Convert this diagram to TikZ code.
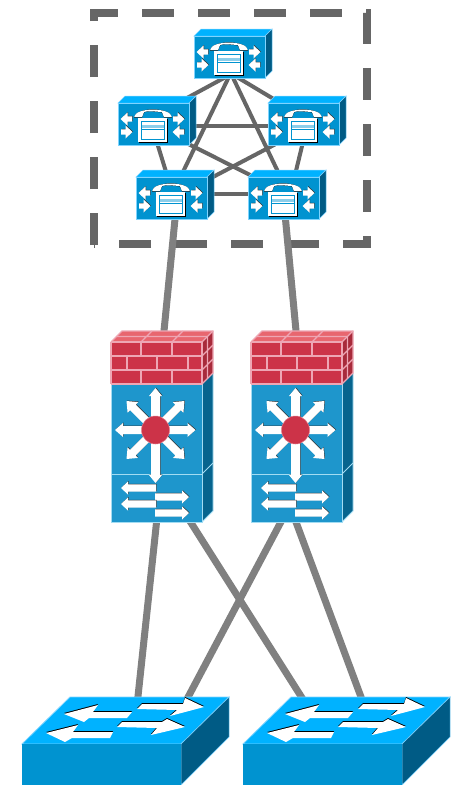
\documentclass[tikz,border=0pt]{standalone}
\usetikzlibrary{calc,backgrounds}
\definecolor{phTop}{HTML}{00B2FF}
\definecolor{phFront}{HTML}{0093D0}
\definecolor{phSide}{HTML}{005B85}
\definecolor{phEdge}{HTML}{7FD4FF}
\definecolor{stFront}{HTML}{1E96CC}
\definecolor{stSide}{HTML}{06648E}
\definecolor{stEdge}{HTML}{A3DCF2}
\definecolor{fwRed}{HTML}{CC3348}
\definecolor{fwTop}{HTML}{E8666F}
\definecolor{fwSide}{HTML}{A82B3B}
\definecolor{fwLine}{HTML}{EEA6B4}
\definecolor{darkline}{HTML}{666666}
\definecolor{thickline}{HTML}{808080}
\tikzset{
  devbox/.style={rectangle,inner sep=0pt,outer sep=0pt,fill=#1},
  phonebox/.style={devbox=phFront,draw=phEdge,line width=.8pt,minimum width=71pt,minimum height=42pt},
  stackbox/.style={devbox=stFront,draw=stEdge,line width=1pt,minimum width=91pt,minimum height=180pt},
  switchbox/.style={devbox=phFront,minimum width=159pt,minimum height=41pt},
  meshlink/.style={draw=darkline,line width=4pt},
  uplink/.style={draw=thickline,line width=7pt},
  domainframe/.style={draw=darkline,line width=8pt,dash pattern=on 32pt off 24pt,line cap=butt,miter limit=10},
  brick/.style={draw=fwLine,line width=1.2pt}
}
% white arrow with dark shadow: tail point, angle, length, half shaft, half head, head length
\newcommand{\whitearrow}[6]{%
  \begin{scope}[shift={(#1)}]
    \fill[black!80,xshift=.5pt,yshift=.5pt,rotate=#2] (0,-#4)--(#3-#6,-#4)--(#3-#6,-#5)--(#3,0)--(#3-#6,#5)--(#3-#6,#4)--(0,#4)--cycle;
    \fill[white,rotate=#2] (0,-#4)--(#3-#6,-#4)--(#3-#6,-#5)--(#3,0)--(#3-#6,#5)--(#3-#6,#4)--(0,#4)--cycle;
  \end{scope}}
% name, left x, top y of the front face
\newcommand{\phonedev}[3]{%
  \fill[phTop,draw=phEdge,line width=.5pt] (#2,#3)--(#2+7,#3-7)--(#2+78,#3-7)--(#2+71,#3)--cycle;
  \fill[phSide,draw=phEdge,line width=.5pt] (#2+71,#3)--(#2+78,#3-7)--(#2+78,#3+35)--(#2+71,#3+42)--cycle;
  \node[phonebox,anchor=north west] (#1) at (#2,#3) {};
  \begin{scope}[shift={(#2,#3)}]
    \fill[black] (20.6,15.6)--(49.6,15.6)--(49.6,39.6)--(20.6,39.6)--cycle;
    \fill[white] (20,15) rectangle (49,39);
    \draw[phFront,line width=.9pt,fill=white] (23,18) rectangle (46,36);
    \fill[phFront!45] (23.5,21.5) rectangle (45.5,24.5);
    \draw[phFront,line width=.7pt] (23,26) -- (46,26);
    \fill[black] (16,14.6) .. controls (17,3.6) and (53,3.6) .. (54,14.6) -- (46,14.6) -- (44,9.6) .. controls (35,8) and (27,8) .. (26,9.6) -- (24,14.6) -- cycle;
    \fill[white] (16,14.2) .. controls (17,4) and (53,4) .. (54,14.2) -- (46,14.2) -- (44,9.2) .. controls (35,8) and (27,8) .. (26,9.2) -- (24,14.2) -- cycle;
    \whitearrow{14,16}{180}{11.5}{2.6}{6.5}{7}
    \whitearrow{3,29}{0}{11.5}{2.6}{6.5}{7}
    \whitearrow{55,16}{0}{11.5}{2.6}{6.5}{7}
    \whitearrow{66,29}{180}{11.5}{2.6}{6.5}{7}
  \end{scope}}
% name, left x
\newcommand{\stackdev}[2]{%
  \fill[stSide] (#2+91,384)--(#2+102,373)--(#2+102,511)--(#2+91,522)--cycle;
  \draw[stEdge,line width=.8pt] (#2+91,474)--(#2+102,463);
  \draw[stEdge,line width=.8pt] (#2+102,373)--(#2+102,511)--(#2+91,522);
  \node[stackbox,anchor=north west] (#1) at (#2,342) {};
  \draw[stEdge,line width=.8pt] (#2,474)--(#2+91,474);
  % firewall
  \fill[fwTop] (#2,342)--(#2+11,331)--(#2+102,331)--(#2+91,342)--cycle;
  \fill[fwSide] (#2+91,342)--(#2+102,331)--(#2+102,373)--(#2+91,384)--cycle;
  \fill[fwRed] (#2,342) rectangle (#2+91,384);
  \draw[brick] (#2,342)--(#2+91,342) (#2,356)--(#2+91,356) (#2,370)--(#2+91,370) (#2,384)--(#2+91,384) (#2,342)--(#2,384) (#2+91,342)--(#2+91,384);
  \draw[brick] (#2+30,342)--(#2+30,356) (#2+61,342)--(#2+61,356) (#2+30,370)--(#2+30,384) (#2+61,370)--(#2+61,384);
  \draw[brick] (#2+16,356)--(#2+16,370) (#2+46,356)--(#2+46,370) (#2+77,356)--(#2+77,370);
  \draw[brick] (#2,342)--(#2+11,331)--(#2+102,331)--(#2+102,373)--(#2+91,384);
  \draw[brick] (#2+91,342)--(#2+102,331);
  \draw[brick] (#2+5.5,336.5)--(#2+96.5,336.5) (#2+30,342)--(#2+41,331) (#2+61,342)--(#2+72,331);
  \draw[brick] (#2+91,356)--(#2+102,345) (#2+91,370)--(#2+102,359) (#2+96.5,336.5)--(#2+96.5,378.5);
  % router arrows
  \whitearrow{#2+44.5,431}{-90}{52}{4.5}{6.5}{8}
  \whitearrow{#2+44.5,430}{90}{42}{4.5}{6.5}{8}
  \whitearrow{#2+44.5,430}{180}{40.5}{4}{7}{8}
  \whitearrow{#2+44.5,430}{0}{40}{4}{7}{8}
  \whitearrow{#2+44.5,430}{-45}{41}{4}{7.5}{9}
  \whitearrow{#2+44.5,430}{-135}{41}{4}{7.5}{9}
  \whitearrow{#2+44.5,430}{45}{41}{4}{7.5}{9}
  \whitearrow{#2+44.5,430}{135}{41}{4}{7.5}{9}
  \fill[fwRed,draw=fwLine!60!fwRed,line width=.5pt] (#2+44.5,430) circle (14);
  % switch arrows
  \whitearrow{#2+45,488}{180}{35}{3.6}{6.5}{7}
  \whitearrow{#2+44,497}{0}{34}{3.6}{6.5}{7}
  \whitearrow{#2+45,504}{180}{35}{3.6}{6.5}{7}
  \whitearrow{#2+44,513}{0}{34}{3.6}{6.5}{7}}
% one arrow on a switch's top, as a black edge and a white face
\newcommand{\toparrow}[1]{\fill[black,yshift=1pt] #1; \fill[white] #1;}
% name, left x
\newcommand{\switchdev}[2]{%
  \begin{scope}[shift={(#2-22,0)}]
    \fill[phTop,draw=phEdge,line width=.8pt] (22,744)--(70,697)--(229,697)--(181,744)--cycle;
    \fill[phSide,draw=phEdge,line width=.5pt] (181,744)--(229,697)--(229,737)--(181,785)--cycle;
    \toparrow{(64,714)--(98,705)--(93,712)--(132,712)--(127,718)--(89,718)--(84,722)--cycle}
    \toparrow{(46,733)--(78,725)--(73,732)--(113,732)--(110,738)--(72,738)--(65,742)--cycle}
    \toparrow{(137,709)--(142,704)--(183,704)--(185,698)--(204,707)--(170,716)--(177,710)--cycle}
    \toparrow{(117,727)--(122,722)--(162,722)--(167,719)--(185,727)--(151,735)--(157,728)--cycle}
  \end{scope}
  \node[switchbox,anchor=north west] (#1) at (#2,744) {};}
\begin{document}
\begin{tikzpicture}[x=1pt,y=-1pt]
  \useasboundingbox (0,0) rectangle (452,785);
  \phonedev{p1}{194}{36}
  \phonedev{p2}{118}{103}
  \phonedev{p3}{268}{103}
  \phonedev{p4}{136}{177}
  \phonedev{p5}{248}{177}
  \stackdev{fw1}{111}
  \stackdev{fw2}{251}
  \switchdev{s1}{22}
  \switchdev{s2}{243}
  \begin{pgfonlayer}{background}
    \fill[white] (0,0) rectangle (452,785);
    \path[domainframe] (94,245)--(94,13)--(367,13)--(367,244)--(94,244);
    \draw[meshlink] ($(p1.center)+(.5,17.7)$) -- ($(p2.center)+(28,-23)$);
    \draw[meshlink] ($(p1.center)+(1.5,16.5)$) -- ($(p3.center)+(-26.5,-23)$);
    \draw[meshlink] ($(p1.center)+(1.5,15.5)$) -- ($(p4.center)+(9.5,-22)$);
    \draw[meshlink] ($(p1.center)+(1.5,16.5)$) -- ($(p5.center)+(-3.5,-22)$);
    \draw[meshlink] ($(p2.center)+(0,2)$) -- ($(p3.center)+(0,2)$);
    \draw[meshlink] ($(p2.center)+(3,17)$) -- ($(p4.center)+(-4.5,-23)$);
    \draw[meshlink] ($(p2.center)+(32,18.5)$) -- ($(p5.center)+(-28.5,-20.5)$);
    \draw[meshlink] ($(p3.center)+(-28.5,20.4)$) -- ($(p4.center)+(36.5,-18.4)$);
    \draw[meshlink] ($(p3.center)+(-.5,18)$) -- ($(p5.center)+(11.5,-23)$);
    \draw[meshlink] ($(p4.center)+(0,-4.5)$) -- ($(p5.center)+(0,-4.5)$);
    \draw[uplink] ($(p4.center)+(4,16)$) -- ($(fw1.north)+(7,-6)$);
    \draw[uplink] ($(p5.center)+(1.5,16)$) -- ($(fw2.north)+(0,-6)$);
    \draw[uplink] ($(fw1.south)+(.5,-4)$) -- ($(s1.north)+(36,-43)$);
    \draw[uplink] ($(fw1.south)+(31.5,-4)$) -- ($(s2.north)+(-18.5,-43)$);
    \draw[uplink] ($(fw2.south)+(-13.5,-4)$) -- ($(s1.north)+(84.5,-43)$);
    \draw[uplink] ($(fw2.south)+(-2,-4)$) -- ($(s2.north)+(40,-43)$);
  \end{pgfonlayer}
\end{tikzpicture}
\end{document}
